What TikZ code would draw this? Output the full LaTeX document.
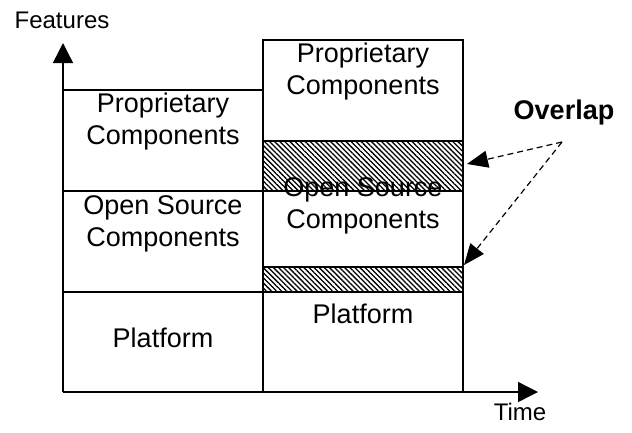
\documentclass[tikz,border=0pt]{standalone}
\usepackage{fontspec}
\setmainfont{Liberation Sans}
\usetikzlibrary{positioning, arrows.meta, patterns.meta}

\begin{document}
\begin{tikzpicture}[x = 1pt, y = -1pt, line width = 1.4pt, font = \fontsize{27}{32}\selectfont]
    \useasboundingbox (0, 0) rectangle (632, 432);

    \coordinate (origin) at (63, 392);
    \coordinate (ytip) at (63, 43);
    \coordinate (xtip) at (538, 392);

    % hatched overlap bands
    \fill [pattern = {Lines[angle = -45, distance = 3.6pt, line width = 1.3pt]}] (263, 141) rectangle (463, 191);
    \fill [pattern = {Lines[angle = -45, distance = 3.6pt, line width = 1.3pt]}] (263, 267) rectangle (463, 292);

    % left column
    \draw (63, 90) -- (263, 90);
    \draw (63, 191) -- (463, 191);
    \draw (63, 292) -- (463, 292);
    % right column
    \draw (263, 392) -- (263, 40) -- (463, 40) -- (463, 392);
    \draw (263, 141) -- (463, 141);
    \draw (263, 267) -- (463, 267);

    % axes
    \draw [-{Triangle[length = 20pt, width = 20pt]}] (origin) -- (ytip);
    \draw [-{Triangle[length = 20pt, width = 20pt]}] (origin) -- (xtip);

    \node (features) at (62, 20) {\fontsize{24}{28}\selectfont Features};
    \node (time) at (520, 412) {\fontsize{24}{28}\selectfont Time};

    \node [align = center] (propL) at (163, 122) {Proprietary\\Components};
    \node [align = center] (openL) at (163, 224) {Open Source\\Components};
    \node (platL) at (163, 338) {Platform};

    \node [align = center] (propR) at (363, 72) {Proprietary\\Components};
    \node [align = center] (openR) at (363, 206) {Open Source\\Components};
    \node (platR) at (363, 314) {Platform};

    \node (overlap) at (564, 113) {\bfseries Overlap};
    \coordinate (fork) at (562, 142);
    \coordinate (hitA) at (467, 164);
    \coordinate (hitB) at (464, 265);

    \draw [dash pattern = on 6pt off 4pt, line width = 1.2pt, -{Triangle[length = 21pt, width = 17pt]}] (fork) -- (hitA);
    \draw [dash pattern = on 6pt off 4pt, line width = 1.2pt, -{Triangle[length = 21pt, width = 17pt]}] (fork) -- (hitB);
\end{tikzpicture}
\end{document}
